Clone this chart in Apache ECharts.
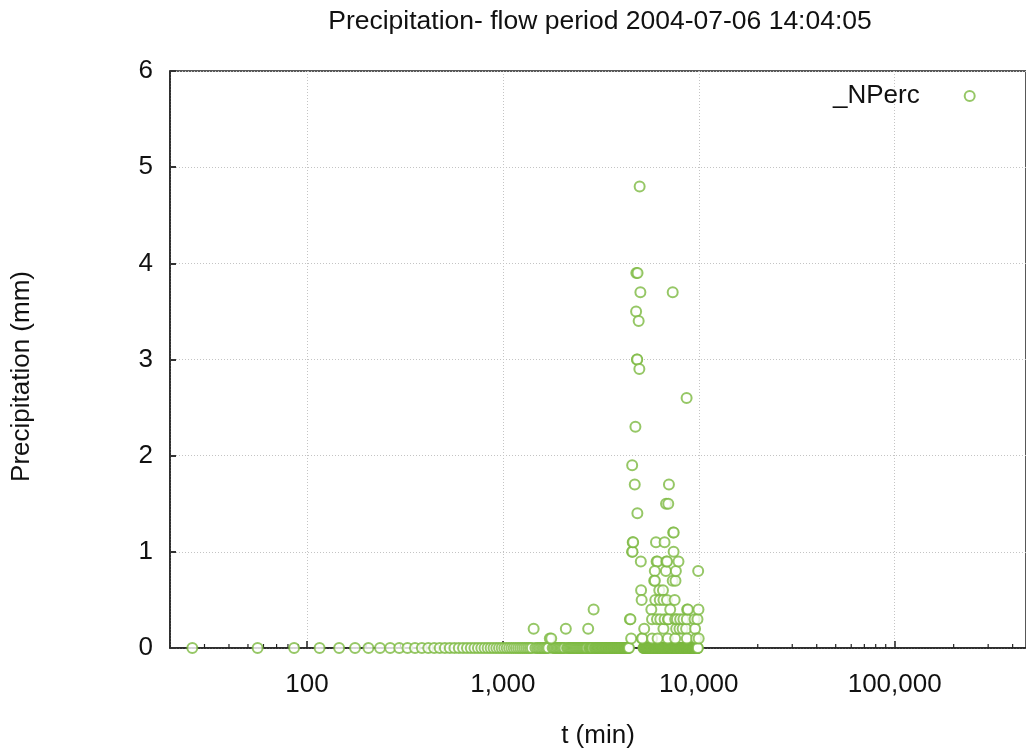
<!DOCTYPE html>
<html>
<head>
<meta charset="utf-8">
<script src="https://cdn.jsdelivr.net/npm/echarts@6/dist/echarts.min.js"></script>
<style>
  html, body { margin: 0; padding: 0; background: #fff; }
  #chart { width: 1026px; height: 754px; }
</style>
</head>
<body>
<div id="chart"></div>
<script>
// dry intervals (0 mm), t in minutes
const dryTimes = [
  26, 56, 86, 116, 146, 176, 206, 236, 266, 296,
  326, 356, 386, 416, 446, 476, 506, 536, 566, 596,
  626, 656, 686, 716, 746, 776, 806, 836, 866, 896,
  926, 956, 986, 1016, 1046, 1076, 1106, 1136, 1166, 1196,
  1226, 1256, 1286, 1316, 1346, 1376, 1406, 1466, 1496,
  1526, 1556, 1586, 1616, 1646, 1676, 1706, 1796,
  1826, 1856, 1886, 1916, 1946, 1976, 2006, 2036, 2066,
  2126, 2156, 2186, 2216, 2246, 2276, 2306, 2336, 2366, 2396,
  2426, 2456, 2486, 2516, 2546, 2576, 2606, 2636, 2666, 2696,
  2756, 2786, 2816, 2846, 2876, 2936, 2966, 2996,
  3026, 3056, 3086, 3116, 3146, 3176, 3206, 3236, 3266, 3296,
  3326, 3356, 3386, 3416, 3446, 3476, 3506, 3536, 3566, 3596,
  3626, 3656, 3686, 3716, 3746, 3776, 3806, 3836, 3866, 3896,
  3926, 3956, 3986, 4016, 4046, 4076, 4106, 4136, 4166, 4196,
  4226, 4256, 4286, 4316, 4346, 4376, 4406,
  5216, 5246, 5276, 5306, 5336, 5366, 5396, 5426, 5456, 5486,
  5516, 5546, 5576, 5606, 5636, 5666, 5696, 5726, 5756, 5786,
  5816, 5846, 5876, 5906, 5936, 5966, 5996, 6026, 6056, 6086,
  6116, 6146, 6176, 6206, 6236, 6266, 6296, 6326, 6356, 6386,
  6416, 6446, 6476, 6506, 6536, 6566, 6596, 6626, 6656, 6686,
  6716, 6746, 6776, 6806, 6836, 6866, 6896, 6926, 6956, 6986,
  7016, 7046, 7076, 7106, 7136, 7166, 7196, 7226, 7256, 7286,
  7316, 7346, 7376, 7406, 7436, 7466, 7496, 7526, 7556, 7586,
  7616, 7646, 7676, 7706, 7736, 7766, 7796, 7826, 7856, 7886,
  7916, 7946, 7976, 8006, 8036, 8066, 8096, 8126, 8156, 8186,
  8216, 8246, 8276, 8306, 8336, 8366, 8396, 8426, 8456, 8486,
  8516, 8546, 8576, 8606, 8636, 8666, 8696, 8726, 8756, 8786,
  8816, 8846, 8876, 8906, 8936, 8966, 8996, 9026, 9056, 9086,
  9116, 9146, 9176, 9206, 9236, 9266, 9296, 9326, 9356, 9386,
  9416, 9446, 9476, 9506, 9536, 9566, 9596, 9626, 9656, 9686,
  9716, 9746, 9776, 9806, 9836, 9866, 9896
];

// wet intervals
const wetTimes = [
  1436, 1736, 1766, 2096, 2726, 2906,
  4450, 4480, 4517, 4565, 4590, 4571, 4600, 4625, 4712, 4749,
  4788, 4800, 4870, 4835, 4850, 4860, 4934, 4974, 4991, 5035,
  5060, 5077, 5110, 5130, 5150, 5265,
  5726, 5773, 5780, 6049, 6090, 6150, 5964, 5920, 5970, 5999,
  6119, 6163, 6286, 6323, 6360, 6563, 6600, 6600, 6690, 6690,
  6796, 6807, 6986, 6830, 6890, 6880, 6950, 6960, 7000, 7042,
  7148, 7361, 7361, 7400, 7450, 7440, 7534, 7605, 7578, 7578,
  7641, 7668, 7733, 7878, 7970, 8034, 8270, 8347, 8617, 8668,
  8690, 8690, 8720, 8800, 9518, 9573, 9700, 9850, 9930, 9965, 9990
];
const wetMm = [
  0.2, 0.1, 0.1, 0.2, 0.2, 0.4,
  0.3, 0.3, 0.1, 1.0, 1.0, 1.9, 1.1, 1.1, 1.7, 2.3,
  3.5, 3.9, 3.9, 3.0, 3.0, 1.4, 3.4, 2.9, 4.8, 3.7,
  0.9, 0.6, 0.5, 0.1, 0.1, 0.2,
  0.4, 0.3, 0.1, 1.1, 0.9, 0.9, 0.8, 0.7, 0.7, 0.5,
  0.3, 0.1, 0.6, 0.5, 0.3, 0.6, 0.5, 0.2, 1.1, 0.3,
  0.8, 1.5, 1.5, 0.9, 0.9, 0.5, 0.1, 0.3, 0.3, 1.7,
  0.4, 3.7, 0.7, 1.2, 1.2, 1.0, 0.5, 0.7, 0.3, 0.1,
  0.8, 0.2, 0.3, 0.9, 0.2, 0.3, 0.2, 0.3, 0.2, 2.6,
  0.3, 0.1, 0.4, 0.4, 0.3, 0.2, 0.1, 0.3, 0.8, 0.4, 0.1
];

const minorSteps = [2, 3, 4, 5, 6, 7, 8, 9];
const decades = [10, 100, 1000, 10000, 100000];

const xMin = 20;
const xMax = 468000; // axis runs past the right edge of the picture

const green = '#7cb940';
const font = "'Liberation Sans', Arial, sans-serif";

const points = dryTimes.map(t => [t, 0]).concat(wetTimes.map((t, i) => [t, wetMm[i]]));

const minorTicks = [];
decades.forEach(d => minorSteps.forEach(m => {
  const v = d * m;
  if (v > xMin && v < xMax) minorTicks.push([v, 0]);
}));

const chart = echarts.init(document.getElementById('chart'));
chart.setOption({
  animation: false,
  textStyle: { fontFamily: font },
  title: {
    text: 'Precipitation- flow period 2004-07-06 14:04:05',
    left: 600, top: 8, textAlign: 'center', padding: 0,
    textStyle: { fontFamily: font, fontSize: 26.5, fontWeight: 'normal', color: '#111' }
  },
  legend: {
    data: ['_NPerc'],
    left: 833, top: 83, padding: 0,
    align: 'right',
    itemWidth: 10, itemHeight: 10,
    textStyle: { fontFamily: font, fontSize: 26, color: '#111', padding: [0, 40, 0, 0] }
  },
  grid: {
    left: 170, right: 0, top: 71, bottom: 106,
    show: true, borderColor: '#222', borderWidth: 1.5
  },
  xAxis: {
    type: 'log', logBase: 10, min: xMin, max: xMax,
    name: 't (min)', nameLocation: 'middle', nameGap: 75,
    nameTextStyle: { fontFamily: font, fontSize: 26, color: '#111' },
    axisLine: { lineStyle: { color: '#222', width: 1.5 } },
    axisTick: { inside: true, length: 7, lineStyle: { color: '#222', width: 1.5 } },
    axisLabel: {
      margin: 24, fontFamily: font, fontSize: 26, color: '#111',
      showMinLabel: false, showMaxLabel: false,
      formatter: v => Math.round(v).toLocaleString('en-US')
    },
    splitLine: { show: true, lineStyle: { color: '#c4c4c4', width: 1, type: [1, 2] } }
  },
  yAxis: {
    type: 'value', min: 0, max: 6, interval: 1,
    name: 'Precipitation (mm)', nameLocation: 'middle', nameGap: 135,
    nameTextStyle: { fontFamily: font, fontSize: 26, color: '#111', padding: [0, 34, 0, 0] },
    axisLine: { lineStyle: { color: '#222', width: 1.5 } },
    axisTick: { inside: true, length: 6, lineStyle: { color: '#333', width: 2 } },
    axisLabel: { margin: 17, fontFamily: font, fontSize: 26, color: '#111' },
    splitLine: { show: true, lineStyle: { color: '#c4c4c4', width: 1, type: [1, 2] } }
  },
  series: [
    {
      name: 'minor',
      type: 'custom',
      silent: true,
      clip: false,
      z: 1,
      data: minorTicks,
      renderItem: (params, api) => {
        const p = api.coord([api.value(0), 0]);
        return {
          type: 'line',
          shape: { x1: p[0], y1: p[1], x2: p[0], y2: p[1] - 4 },
          style: { stroke: '#222', lineWidth: 1.2 }
        };
      }
    },
    {
      name: '_NPerc',
      type: 'scatter',
      symbol: 'emptyCircle',
      symbolSize: 10,
      clip: false,
      z: 3,
      itemStyle: { color: green, borderColor: green, borderWidth: 1.3 },
      data: points
    }
  ]
});
</script>
</body>
</html>
